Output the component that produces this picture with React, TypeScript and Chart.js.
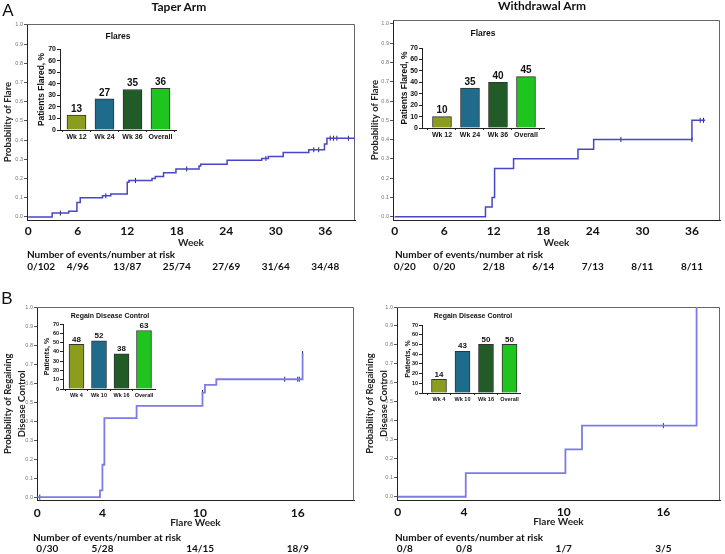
import React, { useEffect, useRef } from "react";
import { Chart, registerables } from "chart.js";

Chart.register(...registerables);

// ---------------- data ----------------
const probTicks = [0, 0.1, 0.2, 0.3, 0.4, 0.5, 0.6, 0.7, 0.8, 0.9, 1.0];
const flareWeekTicks = [0, 6, 12, 18, 24, 30, 36];
const regainWeekTicks = [0, 4, 10, 16];

const taperFlareWeeks = [0, 2.9, 4.9, 5.9, 6.3, 9.0, 10.0, 12.0, 12.2, 15.0, 15.4, 16.4, 17.9, 20.7, 20.9, 24.1, 28.3, 29.1, 30.9, 34.0, 35.9, 36.2, 39.6];
const taperFlareProb = [0, 0.02, 0.03, 0.075, 0.1, 0.11, 0.12, 0.18, 0.19, 0.2, 0.21, 0.23, 0.25, 0.265, 0.275, 0.295, 0.305, 0.315, 0.335, 0.35, 0.38, 0.41, 0.41];
const taperFlareCensorWeeks = [3.9, 9.4, 13.0, 19.2, 28.8, 34.6, 35.2, 36.6, 37.0, 37.4, 38.8];
const taperFlareCensorProb = [0.02, 0.11, 0.19, 0.25, 0.305, 0.35, 0.35, 0.41, 0.41, 0.41, 0.41];

const withdrawalFlareWeeks = [0, 11.0, 11.8, 12.1, 14.4, 22.2, 24.1, 36.0, 37.6];
const withdrawalFlareProb = [0, 0.05, 0.1, 0.25, 0.3, 0.35, 0.4, 0.5, 0.5];
const withdrawalFlareCensorWeeks = [27.4, 36.0, 37.0, 37.4];
const withdrawalFlareCensorProb = [0.4, 0.4, 0.5, 0.5];

const taperRegainWeeks = [0, 3.85, 4.0, 4.12, 6.1, 10.15, 10.3, 11.0, 16.3];
const taperRegainProb = [0, 0.035, 0.17, 0.415, 0.48, 0.55, 0.59, 0.62, 0.755];
const taperRegainCensorWeeks = [0.15, 10.15, 15.2, 16.0, 16.1, 16.3];
const taperRegainCensorProb = [0, 0.55, 0.62, 0.62, 0.62, 0.755];

const withdrawalRegainWeeks = [0, 4.1, 10.1, 11.1, 18.0];
const withdrawalRegainProb = [0, 0.125, 0.25, 0.375, 1.0];
const withdrawalRegainCensorWeeks = [16.0];
const withdrawalRegainCensorProb = [0.375];

const riskHeader = "Number of events/number at risk";
const taperFlareRisk = ["0/102", "4/96", "13/87", "25/74", "27/69", "31/64", "34/48"];
const withdrawalFlareRisk = ["0/20", "0/20", "2/18", "6/14", "7/13", "8/11", "8/11"];
const taperRegainRisk = ["0/30", "5/28", "14/15", "18/9"];
const withdrawalRegainRisk = ["0/8", "0/8", "1/7", "3/5"];

const flareInsetLabels = ["Wk 12", "Wk 24", "Wk 36", "Overall"];
const taperFlarePct = [13, 27, 35, 36];
const withdrawalFlarePct = [10, 35, 40, 45];
const regainInsetLabels = ["Wk 4", "Wk 10", "Wk 16", "Overall"];
const taperRegainPct = [48, 52, 38, 63];
const withdrawalRegainPct = [14, 43, 50, 50];
const insetTicks = [0, 10, 20, 30, 40, 50, 60, 70];
const insetColors = ["#8c9c1e", "#1f6b8c", "#215c28", "#1fc41f"];

// ---------------- styling ----------------
const MAIN_FONT = "Lato, 'Open Sans', sans-serif";
const INSET_FONT = "'Liberation Sans', Arial, sans-serif";

const mainSpecs = [
  {
    left: 0, top: 0, width: 360, height: 275,
    yAxisWidth: 27, padTop: 24, padRight: 5, xAxisHeight: 29, padBottom: 26,
    xMin: -0.15, xMax: 39.6, yMin: -0.016, yMax: 1.005, tickPad: 4,
    xTicks: flareWeekTicks, weeks: taperFlareWeeks, probs: taperFlareProb,
    cWeeks: taperFlareCensorWeeks, cProbs: taperFlareCensorProb,
    lineColor: "#4646c6", lineWidth: 1.5,
    xTitle: "Week", yTitle: "Probability of Flare", yTitlePad: 1,
    riskHeaderX: 27, riskHeaderY: 255, riskRowY: 267, riskWeeks: flareWeekTicks, riskLabels: taperFlareRisk,
  },
  {
    left: 366, top: 0, width: 359, height: 275,
    yAxisWidth: 27, padTop: 20, padRight: 3, xAxisHeight: 29, padBottom: 26,
    xMin: -0.2, xMax: 39.4, yMin: -0.017, yMax: 1.02, tickPad: 4,
    xTicks: flareWeekTicks, weeks: withdrawalFlareWeeks, probs: withdrawalFlareProb,
    cWeeks: withdrawalFlareCensorWeeks, cProbs: withdrawalFlareCensorProb,
    lineColor: "#4646c6", lineWidth: 1.5,
    xTitle: "Week", yTitle: "Probability of Flare", yTitlePad: 2,
    riskHeaderX: 29, riskHeaderY: 255, riskRowY: 267, riskWeeks: flareWeekTicks, riskLabels: withdrawalFlareRisk,
  },
  {
    left: 0, top: 290, width: 360, height: 264,
    yAxisWidth: 37, padTop: 17, padRight: 6, xAxisHeight: 28, padBottom: 25.5,
    xMin: -0.02, xMax: 19.46, yMin: -0.018, yMax: 1.0, tickPad: 5,
    xTicks: regainWeekTicks, weeks: taperRegainWeeks, probs: taperRegainProb,
    cWeeks: taperRegainCensorWeeks, cProbs: taperRegainCensorProb,
    lineColor: "#7c7ce4", lineWidth: 1.8,
    xTitle: "Flare Week", yTitle: ["Probability of Regaining", "Disease Control"], yTitlePad: 1,
    riskHeaderX: 33, riskHeaderY: 248, riskRowY: 259, riskWeeks: regainWeekTicks, riskLabels: taperRegainRisk,
  },
  {
    left: 362, top: 290, width: 363, height: 264,
    yAxisWidth: 35, padTop: 17, padRight: 3, xAxisHeight: 28, padBottom: 26,
    xMin: -0.04, xMax: 19.41, yMin: -0.017, yMax: 1.0, tickPad: 5,
    xTicks: regainWeekTicks, weeks: withdrawalRegainWeeks, probs: withdrawalRegainProb,
    cWeeks: withdrawalRegainCensorWeeks, cProbs: withdrawalRegainCensorProb,
    lineColor: "#7c7ce4", lineWidth: 1.8,
    xTitle: "Flare Week", yTitle: ["Probability of Regaining", "Disease Control"], yTitlePad: 1,
    riskHeaderX: 33, riskHeaderY: 248, riskRowY: 259, riskWeeks: regainWeekTicks, riskLabels: withdrawalRegainRisk,
  },
];

const insetSpecs = [
  {
    left: 35, top: 40, width: 145, height: 105, yAxisWidth: 25, padTop: 9, padRight: 4, xAxisHeight: 15,
    xMin: 0.411, xMax: 4.554, barW: 19, labels: flareInsetLabels, values: taperFlarePct,
    yTitle: "Patients Flared, %", titleSize: 8.5, tickSize: 7, labelSize: 7, valueSize: 10,
  },
  {
    left: 398, top: 38, width: 147, height: 105, yAxisWidth: 24, padTop: 10, padRight: 0, xAxisHeight: 15,
    xMin: 0.286, xMax: 4.679, barW: 19, labels: flareInsetLabels, values: withdrawalFlarePct,
    yTitle: "Patients Flared, %", titleSize: 8.5, tickSize: 7, labelSize: 7, valueSize: 10,
  },
  {
    left: 41, top: 318, width: 117, height: 83, yAxisWidth: 22, padTop: 6, padRight: 3, xAxisHeight: 12,
    xMin: 0.4, xMax: 4.489, barW: 15, labels: regainInsetLabels, values: taperRegainPct,
    yTitle: "Patients, %", titleSize: 7, tickSize: 5.5, labelSize: 5.5, valueSize: 8,
  },
  {
    left: 402, top: 318, width: 120, height: 87, yAxisWidth: 20, padTop: 7, padRight: 2, xAxisHeight: 12,
    xMin: 0.277, xMax: 4.447, barW: 15, labels: regainInsetLabels, values: withdrawalRegainPct,
    yTitle: "Patients, %", titleSize: 7, tickSize: 5.5, labelSize: 5.5, valueSize: 8,
  },
];

const texts = [
  { t: "A", x: 8, y: 10, f: `17px ${INSET_FONT}` },
  { t: "B", x: 7, y: 298, f: `17px ${INSET_FONT}` },
  { t: "Taper Arm", x: 179, y: 7, f: `bold 12px ${MAIN_FONT}` },
  { t: "Withdrawal Arm", x: 542, y: 6, f: `bold 12px ${MAIN_FONT}` },
  { t: "Flares", x: 118, y: 36, f: `bold 8.5px ${INSET_FONT}` },
  { t: "Flares", x: 483, y: 33, f: `bold 8.5px ${INSET_FONT}` },
  { t: "Regain Disease Control", x: 110, y: 315, f: `bold 7px ${INSET_FONT}` },
  { t: "Regain Disease Control", x: 473, y: 315, f: `bold 7px ${INSET_FONT}` },
];

// ---------------- chart factories ----------------
function makeKM(canvas: HTMLCanvasElement, s: any) {
  const boxPlugin = {
    id: "box",
    beforeDatasetsDraw(chart: any) {
      const { left, top, right, bottom } = chart.chartArea;
      const ctx = chart.ctx;
      ctx.save();
      ctx.strokeStyle = "#666";
      ctx.lineWidth = 1;
      ctx.beginPath();
      ctx.moveTo(left, top + 0.5);
      ctx.lineTo(right - 0.5, top + 0.5);
      ctx.lineTo(right - 0.5, bottom);
      ctx.stroke();
      ctx.restore();
    },
  };
  const riskPlugin = {
    id: "risk",
    afterDraw(chart: any) {
      const ctx = chart.ctx;
      const xs = chart.scales.x;
      ctx.save();
      ctx.fillStyle = "#111";
      ctx.font = `bold 10px ${MAIN_FONT}`;
      ctx.textBaseline = "middle";
      ctx.textAlign = "left";
      ctx.fillText(riskHeader, s.riskHeaderX, s.riskHeaderY);
      s.riskWeeks.forEach((w: number, i: number) => {
        const px = xs.getPixelForValue(w);
        if (i === 0) {
          ctx.textAlign = "left";
          ctx.fillText(s.riskLabels[i], px - 1, s.riskRowY);
        } else {
          ctx.textAlign = "center";
          ctx.fillText(s.riskLabels[i], px, s.riskRowY);
        }
      });
      ctx.restore();
    },
  };
  return new Chart(canvas, {
    type: "line",
    data: {
      datasets: [
        {
          data: s.weeks.map((w: number, i: number) => ({ x: w, y: s.probs[i] })),
          stepped: "before",
          borderColor: s.lineColor,
          borderWidth: s.lineWidth,
          pointRadius: 0,
          fill: false,
        },
        {
          data: s.cWeeks.map((w: number, i: number) => ({ x: w, y: s.cProbs[i] })),
          showLine: false,
          pointStyle: "line",
          rotation: 90,
          pointRadius: 2.5,
          pointBorderWidth: 1,
          pointBorderColor: "#24244a",
          borderColor: "#24244a",
        },
      ],
    },
    options: {
      responsive: false,
      animation: false,
      events: [],
      layout: { padding: { top: s.padTop, right: s.padRight, bottom: s.padBottom, left: 0 } },
      plugins: { legend: { display: false }, tooltip: { enabled: false } },
      scales: {
        x: {
          type: "linear",
          bounds: "data",
          min: s.xMin,
          max: s.xMax,
          afterBuildTicks: (sc: any) => { sc.ticks = s.xTicks.map((v: number) => ({ value: v })); },
          afterFit: (sc: any) => { sc.height = s.xAxisHeight; },
          grid: { display: false, drawTicks: false },
          border: { display: true, color: "#222", width: 1 },
          ticks: {
            autoSkip: false, maxRotation: 0, padding: s.tickPad, color: "#111",
            font: { family: MAIN_FONT, size: 12, weight: "bold" },
            callback: (v: any) => String(v),
          },
          title: {
            display: true, text: s.xTitle, color: "#222",
            font: { family: MAIN_FONT, size: 10, weight: "bold", lineHeight: 1.2 },
            padding: { top: 0, bottom: 0 },
          },
        },
        y: {
          type: "linear",
          bounds: "data",
          min: s.yMin,
          max: s.yMax,
          afterBuildTicks: (sc: any) => { sc.ticks = probTicks.map((v) => ({ value: v })); },
          afterFit: (sc: any) => { sc.width = s.yAxisWidth; },
          grid: { display: true, drawOnChartArea: false, drawTicks: true, tickLength: 3, color: "#555" },
          border: { display: true, color: "#222", width: 1 },
          ticks: {
            autoSkip: false, padding: 1, color: "#777",
            font: { family: INSET_FONT, size: 5.5 },
            callback: (v: any) => Number(v).toFixed(1),
          },
          title: {
            display: true, text: s.yTitle, color: "#222",
            font: { family: MAIN_FONT, size: 9.5, weight: "bold", lineHeight: "14px" },
            padding: { top: s.yTitlePad, bottom: 0 },
          },
        },
      },
    },
    plugins: [boxPlugin, riskPlugin],
  } as any);
}

function makeInset(canvas: HTMLCanvasElement, s: any) {
  const valuePlugin = {
    id: "vals",
    afterDatasetsDraw(chart: any) {
      const ctx = chart.ctx;
      const meta = chart.getDatasetMeta(0);
      ctx.save();
      ctx.fillStyle = "#111";
      ctx.font = `bold ${s.valueSize}px ${INSET_FONT}`;
      ctx.textAlign = "center";
      ctx.textBaseline = "bottom";
      meta.data.forEach((bar: any, i: number) => {
        ctx.fillText(String(s.values[i]), bar.x, bar.y - 1);
      });
      ctx.restore();
    },
  };
  return new Chart(canvas, {
    type: "bar",
    data: {
      datasets: [
        {
          data: s.values.map((v: number, i: number) => ({ x: i + 1, y: v })),
          backgroundColor: insetColors,
          borderColor: "#333",
          borderWidth: 1,
          barThickness: s.barW,
        },
      ],
    },
    options: {
      responsive: false,
      animation: false,
      events: [],
      layout: { padding: { top: s.padTop, right: s.padRight, bottom: 0, left: 0 } },
      plugins: { legend: { display: false }, tooltip: { enabled: false } },
      scales: {
        x: {
          type: "linear",
          bounds: "data",
          offset: false,
          min: s.xMin,
          max: s.xMax,
          afterBuildTicks: (sc: any) => { sc.ticks = s.labels.map((_: string, i: number) => ({ value: i + 1 })); },
          afterFit: (sc: any) => { sc.height = s.xAxisHeight; },
          grid: { display: true, drawOnChartArea: false, drawTicks: true, tickLength: 2, color: "#222" },
          border: { display: true, color: "#222", width: 1 },
          ticks: {
            autoSkip: false, maxRotation: 0, padding: 1, color: "#111",
            font: { family: INSET_FONT, size: s.labelSize, weight: "bold" },
            callback: (v: any) => s.labels[Math.round(v) - 1],
          },
        },
        y: {
          type: "linear",
          bounds: "data",
          min: 0,
          max: 70,
          afterBuildTicks: (sc: any) => { sc.ticks = insetTicks.map((v) => ({ value: v })); },
          afterFit: (sc: any) => { sc.width = s.yAxisWidth; },
          grid: { display: true, drawOnChartArea: false, drawTicks: true, tickLength: 3, color: "#222" },
          border: { display: true, color: "#222", width: 1 },
          ticks: {
            autoSkip: false, padding: 1, color: "#111",
            font: { family: INSET_FONT, size: s.tickSize, weight: "bold" },
          },
          title: {
            display: true, text: s.yTitle, color: "#111",
            font: { family: INSET_FONT, size: s.titleSize, weight: "bold", lineHeight: 1.2 },
            padding: { top: 2, bottom: 0 },
          },
        },
      },
    },
    plugins: [valuePlugin],
  } as any);
}

export default function App() {
  const mainRefs = useRef<(HTMLCanvasElement | null)[]>([]);
  const insetRefs = useRef<(HTMLCanvasElement | null)[]>([]);

  useEffect(() => {
    const charts: Chart[] = [];
    mainSpecs.forEach((s, i) => {
      const c = mainRefs.current[i];
      if (c) charts.push(makeKM(c, s));
    });
    insetSpecs.forEach((s, i) => {
      const c = insetRefs.current[i];
      if (c) charts.push(makeInset(c, s));
    });
    return () => charts.forEach((c) => c.destroy());
  }, []);

  return (
    <div style={{ position: "absolute", left: 0, top: 0, width: 725, height: 554, background: "#fff", overflow: "hidden" }}>
      {mainSpecs.map((s, i) => (
        <canvas
          key={"m" + i}
          ref={(el) => { mainRefs.current[i] = el; }}
          width={s.width}
          height={s.height}
          style={{ position: "absolute", left: s.left, top: s.top, width: s.width, height: s.height }}
        />
      ))}
      {insetSpecs.map((s, i) => (
        <canvas
          key={"i" + i}
          ref={(el) => { insetRefs.current[i] = el; }}
          width={s.width}
          height={s.height}
          style={{ position: "absolute", left: s.left, top: s.top, width: s.width, height: s.height }}
        />
      ))}
      {texts.map((t, i) => (
        <div
          key={"t" + i}
          style={{
            position: "absolute", left: t.x, top: t.y, transform: "translate(-50%, -50%)",
            font: t.f, color: "#111", whiteSpace: "nowrap", lineHeight: 1,
          }}
        >
          {t.t}
        </div>
      ))}
    </div>
  );
}
